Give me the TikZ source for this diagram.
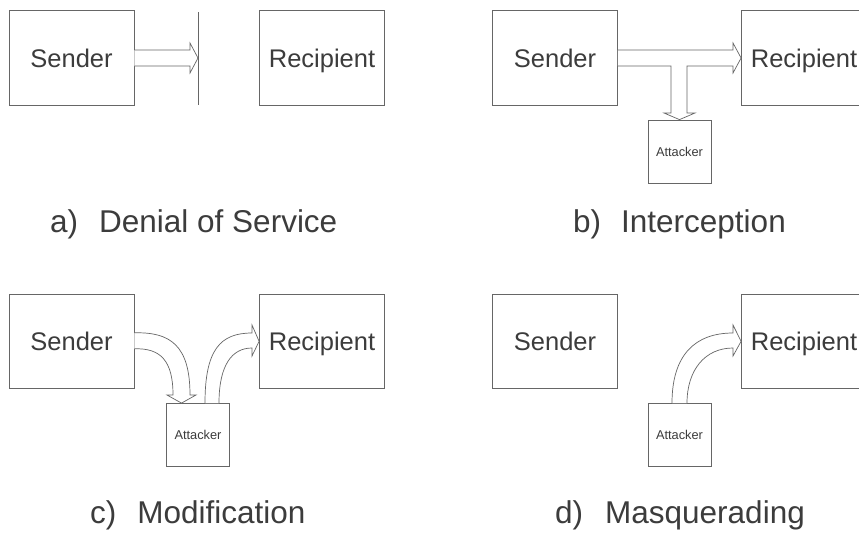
\documentclass[tikz,border=0pt]{standalone}
\usepackage{fontspec}
\setmainfont{Liberation Sans}
\usepackage{tikz}
\usetikzlibrary{positioning,calc}
\definecolor{scanink}{HTML}{3C3C3C}
\definecolor{scanline}{HTML}{666666}

\begin{document}
\begin{tikzpicture}[
  x=1pt,y=-1pt,
  node distance=188pt and 125pt,
  box/.style={draw=scanline,line width=0.8pt,minimum width=125pt,minimum height=94.5pt,
    inner sep=0pt,text=scanink,font=\fontsize{25.5}{30}\selectfont,text height=18pt,text depth=0pt},
  attacker/.style={draw=scanline,line width=0.8pt,minimum width=63pt,minimum height=63pt,
    inner sep=0pt,text=scanink,font=\fontsize{12.8}{15}\selectfont,text height=9pt,text depth=0pt},
  caption/.style={anchor=base west,inner sep=0pt,text=scanink,font=\fontsize{31.5}{36}\selectfont},
  fatarrow/.style={draw=scanline,line width=0.7pt,fill=white,line join=miter},
  wall/.style={draw=scanline,line width=0.8pt}
]
\useasboundingbox[fill=white] (0,0) rectangle (859,533);

% a) denial of service
\node[box] (sndA) at (71.5,58) {Sender};
\node[box] (rcpA) at (322,58) {Recipient};
\coordinate (wallTop) at (198,12);
\coordinate (wallBot) at (198,105);
\draw[wall] (wallTop) -- (wallBot);
\draw[fatarrow] ($(sndA.east)+(0,-8)$) -- (190,50) -- (190,43) -- (wallTop |- sndA) -- (190,73) -- (190,66)
  -- ($(sndA.east)+(0,8)$);
\node[caption] (capA) at (50,232) {a)\hspace{21pt}Denial of Service};

% b) interception
\node[box] (sndB) at (555,58) {Sender};
\node[box] (rcpB) at (804,58) {Recipient};
\node[attacker] (atkB) at (679.5,151.5) {Attacker};
\draw[fatarrow] ($(sndB.east)+(0,-8)$) -- (733,50) -- (733,43) -- (rcpB.west) -- (733,73) -- (733,66)
  -- (687,66) -- (687,113) -- (695,113) -- (atkB.north) -- (664,113) -- (671,113) -- (671,66)
  -- ($(sndB.east)+(0,8)$);
\node[caption] (capB) at (573,232) {b)\hspace{20pt}Interception};

% c) modification
\node[box,below=of sndA] (sndC) {Sender};
\node[box,below=of rcpA] (rcpC) {Recipient};
\node[attacker] (atkC) at (198,435) {Attacker};
\draw[fatarrow] ($(sndC.east)+(0,-8.5)$) .. controls (170,332) and (190,345) .. (190,395)
  -- (196,395) -- (atkC.north -| 181.5,0) -- (167,395) -- (173,395)
  .. controls (173,360) and (160,348) .. ($(sndC.east)+(0,7.5)$);
\draw[fatarrow] (atkC.north -| 205,0) .. controls (205,350) and (220,333) .. (252,333)
  -- (252,325) -- (rcpC.west) -- (252,356) -- (252,348)
  .. controls (232,348) and (219,365) .. (atkC.north -| 219,0);
\node[caption] (capC) at (90,523) {c)\hspace{21pt}Modification};

% d) masquerading
\node[box,below=of sndB] (sndD) {Sender};
\node[box,below=of rcpB] (rcpD) {Recipient};
\node[attacker] (atkD) at (679.5,435) {Attacker};
\draw[fatarrow] (atkD.north -| 672,0) .. controls (672,355) and (695,333) .. (733,333)
  -- (733,325) -- (rcpD.west) -- (733,356) -- (733,348)
  .. controls (705,348) and (687,370) .. (atkD.north -| 687,0);
\node[caption] (capD) at (555,523) {d)\hspace{22pt}Masquerading};
\end{tikzpicture}
\end{document}
